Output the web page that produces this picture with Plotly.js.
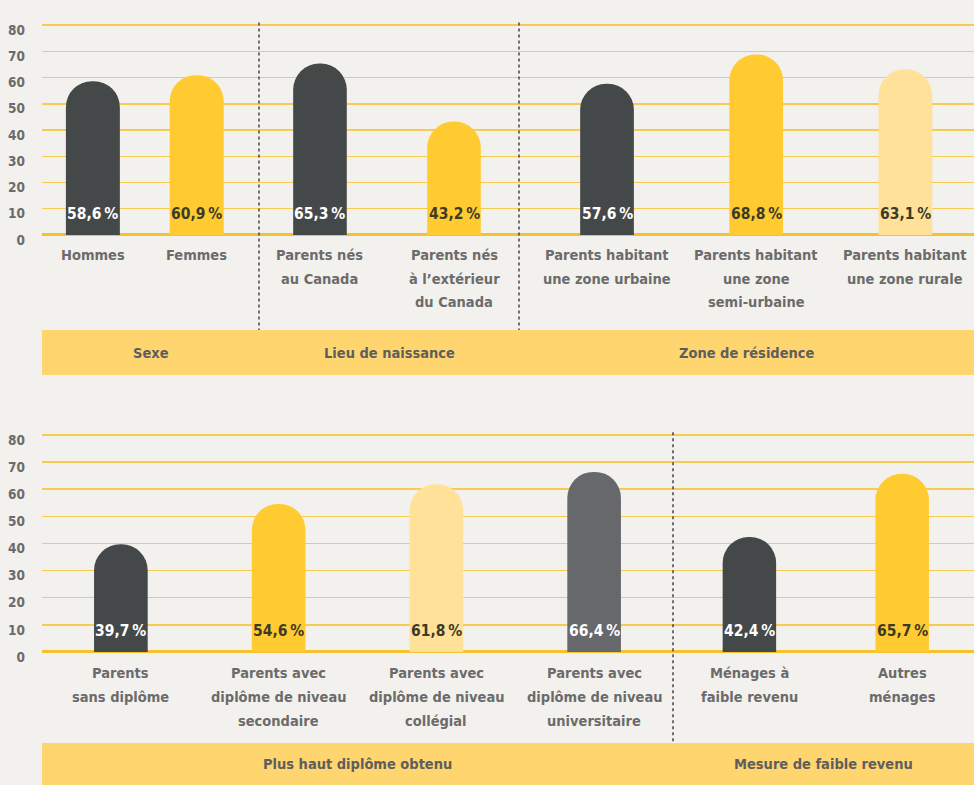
<!DOCTYPE html>
<html>
<head>
<meta charset="utf-8">
<script src="https://cdn.plot.ly/plotly-3.0.1.min.js"></script>
<style>
  html, body { margin: 0; padding: 0; background: #F3F1ED; }
  #chart { width: 974px; height: 785px; }
</style>
</head>
<body>
<div id="chart"></div>
<script>
// ---------- DATA ----------
const topCategories = [
  'Hommes',
  'Femmes',
  'Parents nés<br>au Canada',
  'Parents nés<br>à l’extérieur<br>du Canada',
  'Parents habitant<br>une zone urbaine',
  'Parents habitant<br>une zone<br>semi-urbaine',
  'Parents habitant<br>une zone rurale'
];
const topValues = [58.6, 60.9, 65.3, 43.2, 57.6, 68.8, 63.1];
const topGroups = ['Sexe', 'Sexe', 'Lieu de naissance', 'Lieu de naissance',
  'Zone de résidence', 'Zone de résidence', 'Zone de résidence'];

const bottomCategories = [
  'Parents<br>sans diplôme',
  'Parents avec<br>diplôme de niveau<br>secondaire',
  'Parents avec<br>diplôme de niveau<br>collégial',
  'Parents avec<br>diplôme de niveau<br>universitaire',
  'Ménages à<br>faible revenu',
  'Autres<br>ménages'
];
const bottomValues = [39.7, 54.6, 61.8, 66.4, 42.4, 65.7];
const bottomGroups = ['Plus haut diplôme obtenu', 'Plus haut diplôme obtenu',
  'Plus haut diplôme obtenu', 'Plus haut diplôme obtenu',
  'Mesure de faible revenu', 'Mesure de faible revenu'];

const yTickValues = [0, 10, 20, 30, 40, 50, 60, 70, 80];

// ---------- STYLE ----------
const W = 974, H = 785;
const FONT = '"DejaVu Sans Condensed", "DejaVu Sans", sans-serif';
const DARK = '#454849', YEL = '#FFCB30', LIGHT = '#FFE199', GREY = '#67686C';
const topColors = [DARK, YEL, DARK, YEL, DARK, YEL, LIGHT];
const bottomColors = [DARK, YEL, LIGHT, GREY, DARK, YEL];
const textOn = c => (c === DARK || c === GREY) ? '#FFFFFF' : '#3d3a28';
const BAND = '#FFD570';
const LABEL = '#6b6b6b';

const fx = x => x / W;
const fy = y => 1 - y / H;

// panel geometry in pixels
const panels = [
  { cats: topCategories, vals: topValues, groups: topGroups, colors: topColors,
    bounds: [42, 259, 519, 974], zeroPx: 235, pxPerUnit: 2.625, bandTop: 330, bandBot: 375,
    labelStart: 255, lineGap: 23.5,
    ranges: [[-0.49, 1.6], [-0.455, 1.485], [-0.59, 2.46]], widths: [0.52, 0.40, 0.36] },
  { cats: bottomCategories, vals: bottomValues, groups: bottomGroups, colors: bottomColors,
    bounds: [42, 673, 974], zeroPx: 652, pxPerUnit: 2.7125, bandTop: 743, bandBot: 785,
    labelStart: 673, lineGap: 24,
    ranges: [[-0.5, 3.5], [-0.5, 1.47]], widths: [0.34, 0.35] }
];

const data = [];
const layout = {
  width: W, height: H,
  margin: { l: 0, r: 0, t: 0, b: 0 },
  paper_bgcolor: '#F3F1ED',
  plot_bgcolor: 'rgba(0,0,0,0)',
  showlegend: false,
  font: { family: FONT, color: LABEL },
  shapes: [],
  annotations: []
};

let xIdx = 0;
const YMAX = 81;
panels.forEach((p, pi) => {
  const yName = pi === 0 ? 'y' : 'y2';
  const yKey = pi === 0 ? 'yaxis' : 'yaxis2';
  const yTopPx = p.zeroPx - YMAX * p.pxPerUnit;
  const uniqueGroups = [...new Set(p.groups)];
  let firstX = null;

  uniqueGroups.forEach((g, gi) => {
    xIdx++;
    const xName = xIdx === 1 ? 'x' : 'x' + xIdx;
    const xKey = xIdx === 1 ? 'xaxis' : 'xaxis' + xIdx;
    if (!firstX) firstX = xName;
    const idx = p.groups.map((gg, i) => gg === g ? i : -1).filter(i => i >= 0);
    const cats = idx.map(i => p.cats[i]);
    const vals = idx.map(i => p.vals[i]);
    const cols = idx.map(i => p.colors[i]);

    data.push({
      type: 'bar',
      x: cats, y: vals,
      xaxis: xName, yaxis: yName,
      width: p.widths[gi],
      marker: { color: cols, cornerradius: '50%', line: { width: 0 } },
      hoverinfo: 'skip'
    });

    layout[xKey] = {
      domain: [fx(p.bounds[gi]), fx(p.bounds[gi + 1])],
      anchor: yName,
      type: 'category',
      range: p.ranges[gi],
      showgrid: false, showline: false, zeroline: false,
      ticks: '', showticklabels: false,
      fixedrange: true
    };

    idx.forEach((i, k) => {
      // value label inside bar, at its base
      layout.annotations.push({
        xref: xName, yref: yName, x: k, y: 0,
        xanchor: 'center', yanchor: 'bottom', yshift: 10,
        text: p.vals[i].toFixed(1).replace('.', ',') + '\u2009%',
        showarrow: false,
        font: { family: FONT, size: 15.5, color: textOn(p.colors[i]), weight: 'bold' }
      });
      // category label, one annotation per line for a taller line spacing
      p.cats[i].split('<br>').forEach((line, li) => {
        layout.annotations.push({
          xref: xName, yref: 'paper', x: k,
          y: fy(p.labelStart + li * p.lineGap),
          xanchor: 'center', yanchor: 'middle',
          text: line, showarrow: false,
          font: { family: FONT, size: 14.5, color: LABEL, weight: 'bold' }
        });
      });
    });

    // group band title
    layout.annotations.push({
      xref: 'paper', yref: 'paper',
      x: fx((p.bounds[gi] + p.bounds[gi + 1]) / 2),
      y: fy((p.bandTop + p.bandBot) / 2),
      xanchor: 'center', yanchor: 'middle',
      text: g, showarrow: false,
      font: { family: FONT, size: 14.5, color: '#5e5e5e', weight: 'bold' }
    });

    // dotted separator
    if (gi > 0) {
      layout.shapes.push({
        type: 'line', xref: 'paper', yref: 'paper',
        x0: fx(p.bounds[gi]), x1: fx(p.bounds[gi]),
        y0: fy(yTopPx), y1: fy(p.bandTop),
        line: { color: '#444444', width: 1.5, dash: 'dot' }
      });
    }
  });

  layout[yKey] = {
    domain: [fy(p.zeroPx), fy(yTopPx)],
    anchor: firstX,
    range: [0, YMAX],
    tickvals: yTickValues,
    ticktext: yTickValues.map(String),
    showgrid: true, gridcolor: '#F6CB50', gridwidth: 1.5,
    zeroline: true, zerolinecolor: '#F5C22E', zerolinewidth: 3,
    showline: false, ticks: '',
    ticklabelstandoff: 16,
    ticklabelshift: 5,
    tickfont: { family: FONT, size: 13.5, color: LABEL, weight: 'bold' },
    fixedrange: true
  };

  // group band
  layout.shapes.push({
    type: 'rect', xref: 'paper', yref: 'paper', layer: 'below',
    x0: fx(p.bounds[0]), x1: fx(p.bounds[p.bounds.length - 1]),
    y0: fy(p.bandBot), y1: fy(p.bandTop),
    fillcolor: BAND, line: { width: 0 }
  });
});

Plotly.newPlot('chart', data, layout, { displayModeBar: false, staticPlot: true });
</script>
</body>
</html>
